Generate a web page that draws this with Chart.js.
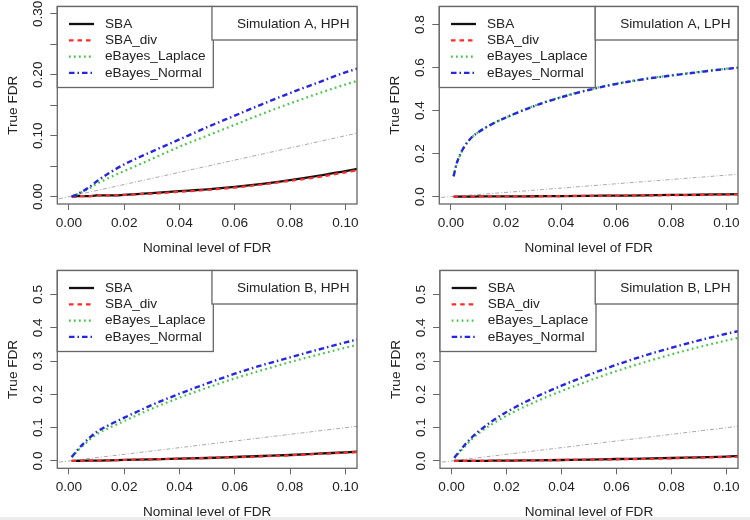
<!DOCTYPE html>
<html>
<head>
<meta charset="utf-8">
<script src="https://cdn.jsdelivr.net/npm/chart.js@4.4.0/dist/chart.umd.min.js"></script>
<style>
  body { margin: 0; background: #fff; }
  #wrap { position: relative; width: 750px; height: 520px; overflow: hidden; }
  #wrap canvas { position: absolute; }
  #strip { position: absolute; left: 0; top: 517px; width: 750px; height: 3px; background: #ececec; }
</style>
</head>
<body>
<div id="wrap">
  <div id="strip"></div>
  <canvas id="c1" width="375" height="260" style="left:0;top:0"></canvas>
  <canvas id="c2" width="375" height="260" style="left:375px;top:0"></canvas>
  <canvas id="c3" width="375" height="260" style="left:0;top:260px"></canvas>
  <canvas id="c4" width="375" height="260" style="left:375px;top:260px"></canvas>
</div>
<script>
// nominal FDR level (x), shared by all panels
const nominalFdr = [0.001, 0.002, 0.003, 0.005, 0.0075, 0.01, 0.015, 0.02, 0.03, 0.04, 0.05, 0.06, 0.07, 0.08, 0.09, 0.10, 0.105];

const seriesNames = ['SBA', 'SBA_div', 'eBayes_Laplace', 'eBayes_Normal'];

// Simulation A, HPH
const aHphSBA  = [0.000, 0.000, 0.001, 0.001, 0.001, 0.002, 0.002, 0.003, 0.006, 0.009, 0.012, 0.016, 0.021, 0.027, 0.034, 0.042, 0.046];
const aHphDiv  = [0.000, 0.000, 0.001, 0.001, 0.001, 0.002, 0.002, 0.003, 0.005, 0.008, 0.011, 0.015, 0.020, 0.026, 0.032, 0.040, 0.044];
const aHphLap  = [0.000, 0.002, 0.004, 0.008, 0.014, 0.021, 0.032, 0.042, 0.062, 0.082, 0.100, 0.118, 0.136, 0.153, 0.169, 0.184, 0.191];
const aHphNorm = [0.000, 0.002, 0.004, 0.009, 0.016, 0.025, 0.040, 0.053, 0.074, 0.094, 0.114, 0.133, 0.152, 0.170, 0.187, 0.204, 0.211];

// Simulation A, LPH
const aLphSBA  = [0.000, 0.000, 0.000, 0.000, 0.000, 0.001, 0.001, 0.001, 0.002, 0.003, 0.004, 0.005, 0.006, 0.008, 0.009, 0.011, 0.012];
const aLphDiv  = [0.000, 0.000, 0.000, 0.000, 0.000, 0.001, 0.001, 0.001, 0.002, 0.003, 0.004, 0.005, 0.006, 0.007, 0.008, 0.010, 0.011];
const aLphLap  = [0.094, 0.149, 0.184, 0.234, 0.274, 0.300, 0.338, 0.368, 0.421, 0.463, 0.497, 0.525, 0.547, 0.564, 0.580, 0.595, 0.601];
const aLphNorm = [0.095, 0.150, 0.185, 0.235, 0.275, 0.300, 0.338, 0.368, 0.420, 0.462, 0.496, 0.524, 0.546, 0.563, 0.579, 0.594, 0.600];

// Simulation B, HPH
const bHphSBA  = [0.000, 0.000, 0.000, 0.001, 0.001, 0.001, 0.002, 0.003, 0.005, 0.007, 0.009, 0.012, 0.015, 0.018, 0.022, 0.026, 0.028];
const bHphDiv  = [0.000, 0.000, 0.000, 0.001, 0.001, 0.001, 0.002, 0.003, 0.005, 0.007, 0.009, 0.011, 0.014, 0.017, 0.021, 0.025, 0.027];
const bHphLap  = [0.011, 0.020, 0.029, 0.045, 0.064, 0.080, 0.101, 0.120, 0.157, 0.190, 0.220, 0.248, 0.273, 0.297, 0.319, 0.340, 0.350];
const bHphNorm = [0.012, 0.022, 0.032, 0.050, 0.070, 0.087, 0.110, 0.130, 0.168, 0.202, 0.233, 0.262, 0.288, 0.311, 0.334, 0.356, 0.366];

// Simulation B, LPH
const bLphSBA  = [0.000, 0.000, 0.000, 0.000, 0.000, 0.000, 0.001, 0.001, 0.002, 0.003, 0.004, 0.006, 0.007, 0.009, 0.011, 0.013, 0.015];
const bLphDiv  = [0.000, 0.000, 0.000, 0.000, 0.000, 0.000, 0.001, 0.001, 0.002, 0.003, 0.004, 0.005, 0.006, 0.008, 0.010, 0.012, 0.013];
const bLphLap  = [0.009, 0.018, 0.027, 0.045, 0.066, 0.084, 0.112, 0.136, 0.176, 0.210, 0.241, 0.270, 0.296, 0.320, 0.342, 0.362, 0.371];
const bLphNorm = [0.010, 0.020, 0.030, 0.050, 0.072, 0.090, 0.121, 0.147, 0.190, 0.226, 0.259, 0.289, 0.316, 0.340, 0.362, 0.382, 0.391];

// reference line y = x
const diagLine = [-0.01, 0.11];

// axes
const xRange = [-0.0042, 0.1042];
const xTicks = [0, 0.02, 0.04, 0.06, 0.08, 0.10];
const xTickLabels = ['0.00', '0.02', '0.04', '0.06', '0.08', '0.10'];
const yTicksAHph = [0, 0.05, 0.10, 0.15, 0.20, 0.25, 0.30];
const yLabelsAHph = ['0.00', '', '0.10', '', '0.20', '', '0.30'];
const yTicksALph = [0, 0.2, 0.4, 0.6, 0.8];
const yLabelsALph = ['0.0', '0.2', '0.4', '0.6', '0.8'];
const yTicksB = [0, 0.1, 0.2, 0.3, 0.4, 0.5];
const yLabelsB = ['0.0', '0.1', '0.2', '0.3', '0.4', '0.5'];

const FONT = '"Liberation Sans", Arial, sans-serif';
const FSIZE = 13.6;
const TEXT = '#222222';
const FRAME = '#666666';

const lineStyles = [
  { color: '#111111', dash: [], width: 2.3 },
  { color: '#ff2b2b', dash: [4.5, 4], width: 2.2 },
  { color: '#3cc83c', dash: [1.7, 3.3], width: 2.2 },
  { color: '#2626e0', dash: [5.5, 3, 1.5, 3], width: 2.4 }
];

const panels = [
  { id: 'c1', title: 'Simulation A, HPH', series: [aHphSBA, aHphDiv, aHphLap, aHphNorm],
    yRange: [-0.012, 0.312], yTicks: yTicksAHph, yLabels: yLabelsAHph,
    pad: { left: 0, top: 6.5, right: 18 }, plotBottom: 204 },
  { id: 'c2', title: 'Simulation A, LPH', series: [aLphSBA, aLphDiv, aLphLap, aLphNorm],
    yRange: [-0.034, 0.884], yTicks: yTicksALph, yLabels: yLabelsALph,
    pad: { left: 7, top: 6.5, right: 12 }, plotBottom: 204 },
  { id: 'c3', title: 'Simulation B, HPH', series: [bHphSBA, bHphDiv, bHphLap, bHphNorm],
    yRange: [-0.022, 0.572], yTicks: yTicksB, yLabels: yLabelsB,
    pad: { left: 0, top: 10.5, right: 18 }, plotBottom: 208.3 },
  { id: 'c4', title: 'Simulation B, LPH', series: [bLphSBA, bLphDiv, bLphLap, bLphNorm],
    yRange: [-0.022, 0.572], yTicks: yTicksB, yLabels: yLabelsB,
    pad: { left: 7.7, top: 10.5, right: 12 }, plotBottom: 208.3 }
];

Chart.defaults.font.family = FONT;
Chart.defaults.font.size = FSIZE;
Chart.defaults.color = TEXT;

const measure = document.createElement('canvas').getContext('2d');
measure.font = FSIZE + 'px ' + FONT;

// R-style frame, legend box and title box
function boxPlugin(p) {
  return {
    id: 'rbox',
    afterDraw(chart) {
      const ctx = chart.ctx;
      const a = chart.chartArea;
      ctx.save();
      ctx.lineWidth = 1.3;
      ctx.strokeStyle = FRAME;
      ctx.strokeRect(a.left, a.top, a.right - a.left, a.bottom - a.top);

      // legend
      const lw = 156, lh = 81;
      ctx.fillStyle = '#fff';
      ctx.fillRect(a.left, a.top, lw, lh);
      ctx.strokeRect(a.left, a.top, lw, lh);
      ctx.font = FSIZE + 'px ' + FONT;
      ctx.textBaseline = 'middle';
      ctx.textAlign = 'left';
      seriesNames.forEach(function (name, k) {
        const y = a.top + 17.5 + k * 16.3;
        const st = lineStyles[k];
        ctx.beginPath();
        ctx.setLineDash(st.dash);
        ctx.strokeStyle = st.color;
        ctx.lineWidth = st.width;
        ctx.moveTo(a.left + 11.7, y);
        ctx.lineTo(a.left + 36.7, y);
        ctx.stroke();
        ctx.setLineDash([]);
        ctx.fillStyle = TEXT;
        ctx.fillText(name, a.left + 47.7, y);
      });

      // title box, top right
      const tw = ctx.measureText(p.title).width;
      const bw = tw + 32.5, bh = 33.5;
      ctx.fillStyle = '#fff';
      ctx.fillRect(a.right - bw, a.top, bw, bh);
      ctx.lineWidth = 1.3;
      ctx.strokeStyle = FRAME;
      ctx.strokeRect(a.right - bw, a.top, bw, bh);
      ctx.fillStyle = TEXT;
      ctx.textAlign = 'right';
      ctx.fillText(p.title, a.right - 7.5, a.top + 17.5);
      ctx.restore();
    }
  };
}

function makeChart(p) {
  const canvas = document.getElementById(p.id);
  const H = canvas.height;
  const widest = Math.max.apply(null, p.yLabels.map(function (s) { return measure.measureText(s).width; }));

  const datasets = p.series.map(function (ys, k) {
    return {
      label: seriesNames[k],
      data: nominalFdr.map(function (x, i) { return { x: x, y: ys[i] }; }),
      borderColor: lineStyles[k].color,
      borderWidth: lineStyles[k].width,
      borderDash: lineStyles[k].dash,
      pointRadius: 0,
      cubicInterpolationMode: 'monotone',
      fill: false,
      order: 3 - k
    };
  });
  datasets.push({
    label: 'y = x',
    data: diagLine.map(function (v) { return { x: v, y: v }; }),
    borderColor: '#aaaaaa',
    borderWidth: 1,
    borderDash: [4, 2, 1, 2],
    pointRadius: 0,
    fill: false,
    order: 10
  });

  new Chart(canvas, {
    type: 'line',
    data: { datasets: datasets },
    options: {
      responsive: false,
      animation: false,
      devicePixelRatio: 1,
      layout: { padding: { left: p.pad.left, top: p.pad.top, right: p.pad.right, bottom: 0 } },
      plugins: { legend: { display: false }, tooltip: { enabled: false } },
      scales: {
        x: {
          type: 'linear',
          min: xRange[0],
          max: xRange[1],
          afterBuildTicks: function (ax) { ax.ticks = xTicks.map(function (v) { return { value: v }; }); },
          afterFit: function (ax) { ax.height = H - p.plotBottom; ax.paddingLeft = 0; ax.paddingRight = 0; },
          ticks: {
            callback: function (v, i) { return xTickLabels[i]; },
            autoSkip: false, maxRotation: 0, padding: 6.2, color: TEXT,
            font: { size: FSIZE, lineHeight: 1 }
          },
          grid: { drawOnChartArea: false, drawTicks: true, tickLength: 6, color: FRAME, lineWidth: 1 },
          border: { display: false },
          title: {
            display: true, text: 'Nominal level of FDR', color: TEXT,
            font: { size: FSIZE, lineHeight: 1 },
            padding: { top: 0, bottom: H - p.plotBottom - 44 - FSIZE / 2 }
          }
        },
        y: {
          type: 'linear',
          min: p.yRange[0],
          max: p.yRange[1],
          afterBuildTicks: function (ax) { ax.ticks = p.yTicks.map(function (v) { return { value: v }; }); },
          afterFit: function (ax) { ax.width = 57.3; ax.paddingTop = 0; ax.paddingBottom = 0; },
          ticks: {
            callback: function (v, i) { return p.yLabels[i]; },
            autoSkip: false, minRotation: 90, maxRotation: 90, crossAlign: 'center',
            padding: 19 - 7 - widest / 2, color: TEXT,
            font: { size: FSIZE, lineHeight: 1 }
          },
          grid: { drawOnChartArea: false, drawTicks: true, tickLength: 7, color: FRAME, lineWidth: 1 },
          border: { display: false },
          title: {
            display: true, text: 'True FDR', color: TEXT,
            font: { size: FSIZE, lineHeight: 1 },
            padding: { top: 6.5, bottom: 0 }
          }
        }
      }
    },
    plugins: [boxPlugin(p)]
  });
}

panels.forEach(makeChart);
</script>
</body>
</html>
